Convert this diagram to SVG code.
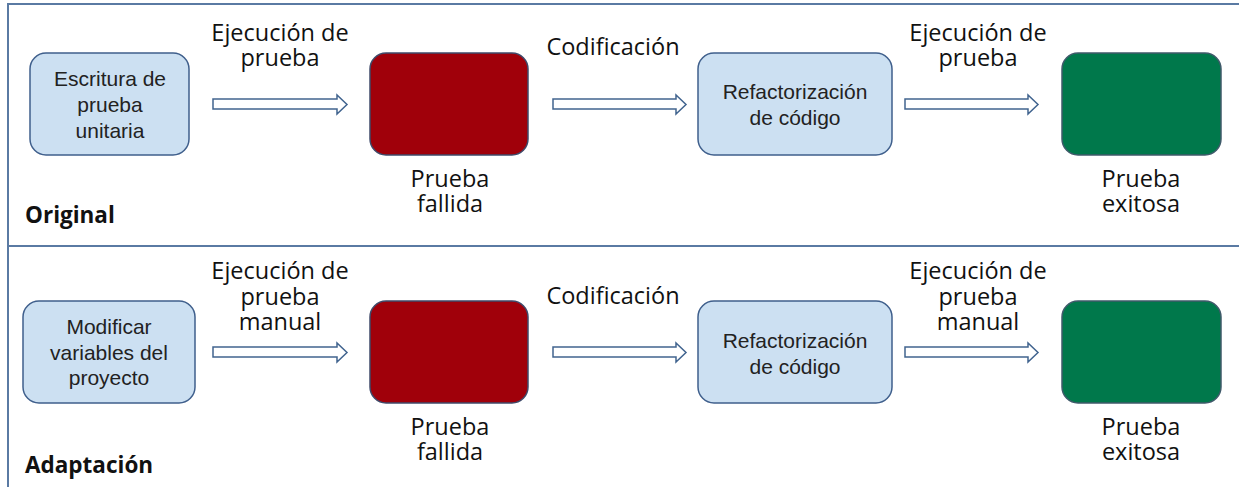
<svg xmlns="http://www.w3.org/2000/svg" width="1239" height="487" viewBox="0 0 1239 487">
<style>
.frame{fill:none;stroke:#5A7AA3;stroke-width:2}
.blue{fill:#CCE0F2;stroke:#3F5F8C;stroke-width:1.5}
.red{fill:#A0000A;stroke:#3F4A6A;stroke-width:1.5}
.green{fill:#00784B;stroke:#3F5A6A;stroke-width:1.5}
.arrow{fill:#FFFFFF;stroke:#41648F;stroke-width:1.5;stroke-linejoin:miter}
.bt{font-family:"Liberation Sans",Arial,sans-serif;font-size:21px;fill:#222;text-anchor:middle}
.lb{font-family:"Open Sans","Noto Sans",sans-serif;font-size:23.5px;fill:#111;text-anchor:middle}
.ttl{font-family:"Open Sans","Noto Sans",sans-serif;font-size:22.5px;font-weight:bold;fill:#111}
</style>
<rect width="1239" height="487" fill="#FFFFFF"/>
<g id="frame">
<path class="frame" d="M8,487 V4 H1239 M8,246 H1239"/>
</g>
<g id="connectors">
<polygon class="arrow" points="213,99 337,99 337,95 347,104.5 337,114 337,109 213,109"/>
<polygon class="arrow" points="553,99 676,99 676,95 686,104.5 676,114 676,109 553,109"/>
<polygon class="arrow" points="905,99 1028,99 1028,95 1038,104.5 1028,114 1028,109 905,109"/>
<polygon class="arrow" points="213,347 337,347 337,343 347,352.5 337,362 337,357 213,357"/>
<polygon class="arrow" points="553,347 676,347 676,343 686,352.5 676,362 676,357 553,357"/>
<polygon class="arrow" points="905,347 1028,347 1028,343 1038,352.5 1028,362 1028,357 905,357"/>
<text class="lb" x="280" y="41">Ejecución de<tspan x="280" dy="25">prueba</tspan></text>
<text class="lb" x="613" y="55">Codificación</text>
<text class="lb" x="978" y="41">Ejecución de<tspan x="978" dy="25">prueba</tspan></text>
<text class="lb" x="280" y="279">Ejecución de<tspan x="280" dy="25.5">prueba</tspan><tspan x="280" dy="25.5">manual</tspan></text>
<text class="lb" x="613" y="304">Codificación</text>
<text class="lb" x="978" y="279">Ejecución de<tspan x="978" dy="25.5">prueba</tspan><tspan x="978" dy="25.5">manual</tspan></text>
</g>
<g id="titulo-original">
<text class="ttl" x="25" y="223">Original</text>
</g>
<g id="titulo-adaptacion">
<text class="ttl" x="25" y="473">Adaptación</text>
</g>
<g id="escritura">
<rect class="blue" x="30" y="53" width="159" height="102" rx="16"/>
<text class="bt" x="110" y="86">Escritura de<tspan x="110" dy="26">prueba</tspan><tspan x="110" dy="26">unitaria</tspan></text>
</g>
<g id="fallida1">
<rect class="red" x="370" y="53" width="158" height="102" rx="16"/>
<text class="lb" x="450" y="187">Prueba<tspan x="450" dy="25">fallida</tspan></text>
</g>
<g id="refactor1">
<rect class="blue" x="698" y="53" width="194" height="102" rx="16"/>
<text class="bt" x="795" y="99">Refactorización<tspan x="795" dy="26">de código</tspan></text>
</g>
<g id="exitosa1">
<rect class="green" x="1062" y="53" width="159" height="102" rx="16"/>
<text class="lb" x="1141" y="187">Prueba<tspan x="1141" dy="25">exitosa</tspan></text>
</g>
<g id="modificar">
<rect class="blue" x="23" y="301" width="172" height="102" rx="16"/>
<text class="bt" x="109" y="334">Modificar<tspan x="109" dy="26">variables del</tspan><tspan x="109" dy="25">proyecto</tspan></text>
</g>
<g id="fallida2">
<rect class="red" x="370" y="301" width="158" height="102" rx="16"/>
<text class="lb" x="450" y="435">Prueba<tspan x="450" dy="25">fallida</tspan></text>
</g>
<g id="refactor2">
<rect class="blue" x="698" y="301" width="194" height="102" rx="16"/>
<text class="bt" x="795" y="348">Refactorización<tspan x="795" dy="26">de código</tspan></text>
</g>
<g id="exitosa2">
<rect class="green" x="1062" y="301" width="159" height="102" rx="16"/>
<text class="lb" x="1141" y="435">Prueba<tspan x="1141" dy="25">exitosa</tspan></text>
</g>
</svg>
